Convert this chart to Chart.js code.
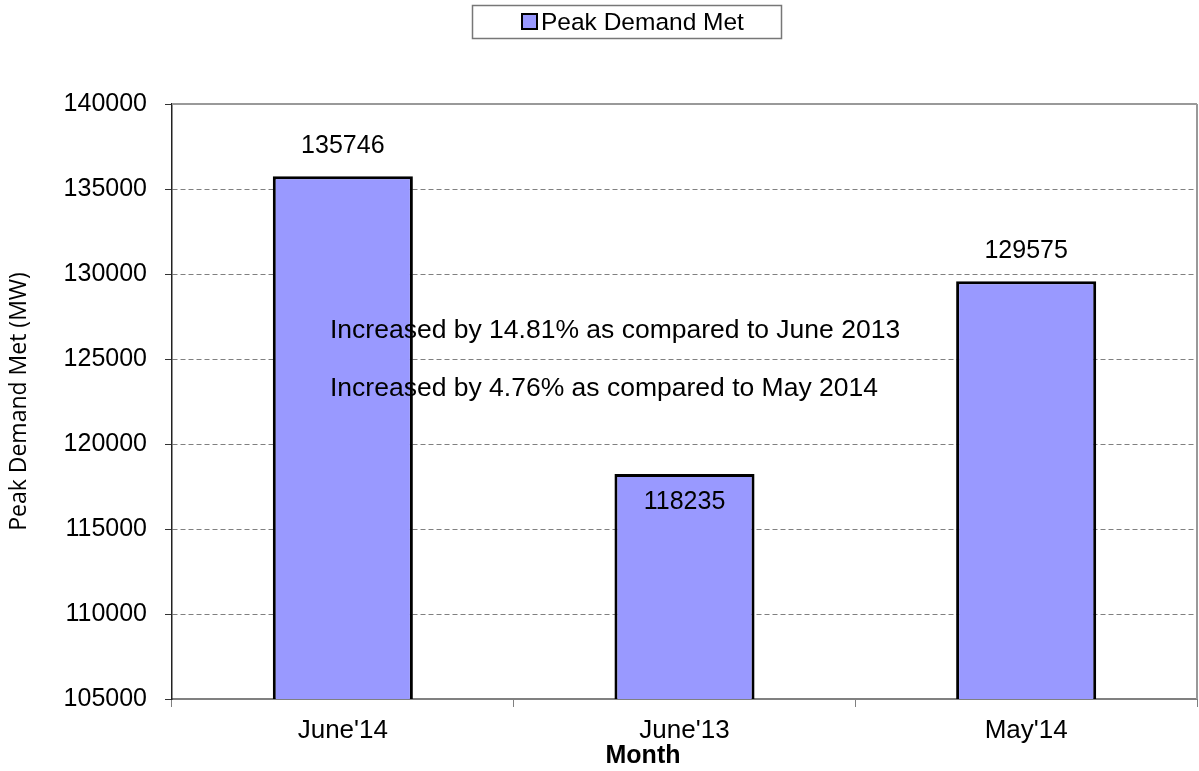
<!DOCTYPE html>
<html>
<head>
<meta charset="utf-8">
<script src="https://cdn.jsdelivr.net/npm/chart.js@4/dist/chart.umd.min.js"></script>
<style>
  html, body { margin: 0; padding: 0; background: #fff; }
  #wrap { width: 1199px; height: 771px; }
</style>
</head>
<body>
<div id="wrap"><canvas id="peak-chart"></canvas></div>
<script>
const months = ["June'14", "June'13", "May'14"];
const peakDemand = [135746, 118235, 129575];
const seriesName = "Peak Demand Met";
const xTitle = "Month";
const yTitle = "Peak Demand Met (MW)";
const notes = [
  "Increased by 14.81% as compared to June 2013",
  "Increased by 4.76% as compared to May 2014",
];
const noteValues = [126650, 123250];
const yMin = 105000;
const yMax = 140000;
const yStep = 5000;

const barColor = "#9999ff";
const arial = "'Liberation Sans', Arial, sans-serif";

// legend box, value labels, notes, x title and plot frame
const extras = {
  id: "extras",
  afterDatasetsDraw(chart) {
    const { ctx, chartArea, scales } = chart;
    const meta = chart.getDatasetMeta(0);

    ctx.save();
    // frame top/right
    ctx.strokeStyle = "#999999";
    ctx.lineWidth = 2;
    ctx.beginPath();
    ctx.moveTo(chartArea.left, chartArea.top);
    ctx.lineTo(chartArea.right, chartArea.top);
    ctx.moveTo(chartArea.right, chartArea.top);
    ctx.lineTo(chartArea.right, chartArea.bottom);
    ctx.stroke();

    // value labels
    ctx.fillStyle = "#000";
    ctx.font = "25px " + arial;
    ctx.textAlign = "center";
    ctx.textBaseline = "middle";
    meta.data.forEach((bar, i) => {
      const inside = peakDemand[i] < noteValues[1];
      const y = inside ? bar.y + 28 : bar.y - 30;
      ctx.fillText(String(peakDemand[i]), bar.x, y);
    });

    // x title, offset to the left as in the original
    ctx.font = "bold 25px " + arial;
    ctx.fillText(xTitle, chartArea.left + 471, chart.height - 15);

    // notes
    ctx.font = "26.5px " + arial;
    ctx.textAlign = "left";
    notes.forEach((t, i) => {
      ctx.fillText(t, chartArea.left + 158, scales.y.getPixelForValue(noteValues[i]));
    });

    // legend
    ctx.strokeStyle = "#777777";
    ctx.lineWidth = 1.5;
    ctx.strokeRect(472.5, 5.5, 309, 33);
    ctx.fillStyle = barColor;
    ctx.fillRect(522, 14, 15, 15);
    ctx.strokeStyle = "#000";
    ctx.lineWidth = 2;
    ctx.strokeRect(522, 14, 15, 15);
    ctx.fillStyle = "#000";
    ctx.font = "24.5px " + arial;
    ctx.fillText(seriesName, 541, 23);
    ctx.restore();
  },
};

new Chart(document.getElementById("peak-chart"), {
  type: "bar",
  data: {
    labels: months,
    datasets: [
      {
        label: seriesName,
        data: peakDemand,
        backgroundColor: barColor,
        borderColor: "#000",
        borderWidth: 3,
        borderSkipped: false,
        categoryPercentage: 1,
        barPercentage: 0.41,
      },
    ],
  },
  options: {
    responsive: true,
    maintainAspectRatio: false,
    animation: false,
    layout: { padding: { top: 104, right: 2, left: 0, bottom: 0 } },
    plugins: {
      legend: { display: false },
      tooltip: { enabled: false },
    },
    scales: {
      x: {
        afterFit(scale) { scale.height = 72; },
        grid: {
          offset: true,
          drawOnChartArea: false,
          drawTicks: true,
          tickLength: 8,
          tickColor: "#808080",
          tickWidth: 1,
        },
        border: { color: "#808080", width: 2 },
        ticks: {
          color: "#000",
          padding: 8,
          font: { family: arial, size: 26 },
        },
      },
      y: {
        min: yMin,
        max: yMax,
        afterFit(scale) { scale.width = 172; },
        grid: {
          color: "#808080",
          lineWidth: 1,
          tickLength: 7,
          tickColor: "#333333",
          tickBorderDash: [],
        },
        border: { color: "#222222", width: 1.5, dash: [5, 3] },
        ticks: {
          stepSize: yStep,
          color: "#000",
          padding: 18,
          font: { family: arial, size: 25 },
          callback: (v) => String(v),
        },
        title: {
          display: true,
          text: yTitle,
          color: "#000",
          padding: { top: 6, bottom: 0 },
          font: { family: "'Open Sans', sans-serif", size: 23 },
        },
      },
    },
  },
  plugins: [extras],
});
</script>
</body>
</html>
